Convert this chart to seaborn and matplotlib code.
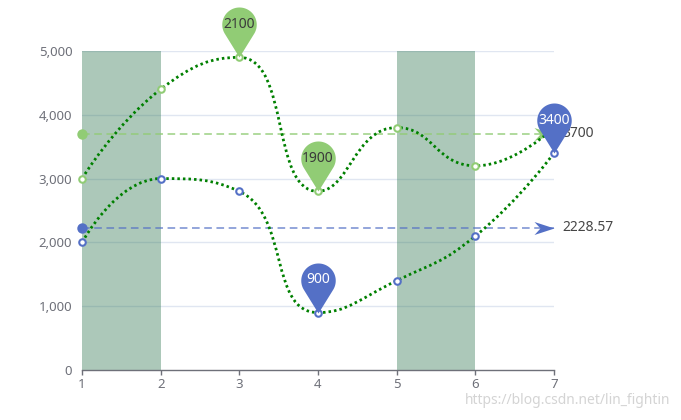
import numpy as np
import matplotlib
matplotlib.use("Agg")
import matplotlib.pyplot as plt
from matplotlib.path import Path
from matplotlib.patches import PathPatch
import seaborn as sns

# chart data
x_values = [1, 2, 3, 4, 5, 6, 7]
blue_values = [2000, 3000, 2800, 900, 1400, 2100, 3400]
green_values = [3000, 4400, 4900, 2800, 3800, 3200, 3800]
y_ticks = [0, 1000, 2000, 3000, 4000, 5000]
shaded_spans = [(1, 2), (5, 6)]
blue_pin_x = [4, 7]
blue_pin_labels = ["900", "3400"]
green_pin_x = [3, 4]
green_pin_labels = ["2100", "1900"]
watermark = "https://blog.csdn.net/lin_fightin"

BLUE = "#5470c6"
GREEN = "#91cc75"
LINE_GREEN = "#008000"
AXIS_GREY = "#6e7079"


def smooth_path(ax, xs, ys, smooth=0.5):
    """Bezier path through the points, echarts-style constrained smoothing."""
    pts = ax.transData.transform(np.column_stack([xs, ys]))
    n = len(pts)
    verts, codes = [pts[0]], [Path.MOVETO]
    cp0 = pts[0]
    for i in range(1, n):
        p, prev = pts[i], pts[i - 1]
        if i + 1 >= n:
            cp1 = p
            next_cp0 = p
        else:
            nxt = pts[i + 1]
            v = nxt - prev
            l0 = np.hypot(*(p - prev))
            l1 = np.hypot(*(nxt - p))
            r = l1 / (l0 + l1)
            next_cp0 = p + v * smooth * r
            next_cp0 = np.minimum(next_cp0, np.maximum(nxt, p))
            next_cp0 = np.maximum(next_cp0, np.minimum(nxt, p))
            v = next_cp0 - p
            cp1 = p - v * l0 / l1
            cp1 = np.minimum(cp1, np.maximum(prev, p))
            cp1 = np.maximum(cp1, np.minimum(prev, p))
            v = p - cp1
            next_cp0 = p + v * l1 / l0
        verts += [cp0, cp1, p]
        codes += [Path.CURVE4] * 3
        cp0 = next_cp0
    verts = ax.transData.inverted().transform(np.array(verts))
    return Path(verts, codes)


def pin_marker(c=1.9):
    phi = np.arccos(1 / c)
    t = np.linspace(-np.pi / 2 + phi, 3 * np.pi / 2 - phi, 80)
    arc = np.column_stack([np.cos(t), c + np.sin(t)])
    verts = np.vstack([[0, 0], arc, [0, 0]])
    codes = [Path.MOVETO] + [Path.LINETO] * len(arc) + [Path.CLOSEPOLY]
    return Path(verts, codes)


def arrow_marker():
    verts = [[0, 0], [-20, 6.5], [-14, 0], [-20, -6.5], [0, 0]]
    codes = [Path.MOVETO, Path.LINETO, Path.LINETO, Path.LINETO, Path.CLOSEPOLY]
    return Path(verts, codes)


sns.set_theme(style="white")
plt.rcParams["font.family"] = ["Noto Sans", "DejaVu Sans"]

fig = plt.figure(figsize=(6.81, 4.2), dpi=100)
ax = fig.add_axes([82 / 681, 50 / 420, 472 / 681, 319 / 420])
ax.set_xlim(1, 7)
ax.set_ylim(0, 5000)

# grid
for v in y_ticks[1:]:
    ax.axhline(v, color="#e0e6f1", lw=1, zorder=0)

# shaded areas
for a, b in shaded_spans:
    ax.axvspan(a, b, ymin=0, ymax=1, color="#2a734d", alpha=0.39, lw=0, zorder=1)

# mark lines (averages)
arrow = arrow_marker()
for vals, col, a in [(green_values, GREEN, 0.9), (blue_values, BLUE, 0.8)]:
    avg = np.mean(vals)
    ax.plot([1, 7], [avg, avg], color=col, alpha=a, lw=1.1, ls=(0, (5, 3)), zorder=2)
    ax.plot([1], [avg], marker="o", ms=7.5, color=col, mec="none", clip_on=False, zorder=2)
    ax.plot([7], [avg], marker=arrow, ms=28.8, color=col, mec="none", clip_on=False, zorder=2)
    label = f"{avg:.2f}".rstrip("0").rstrip(".")
    ax.annotate(label, (7, avg), xytext=(8, 0), textcoords="offset pixels",
                ha="left", va="center", fontsize=10, color="#464646", zorder=2,
                annotation_clip=False)

# smooth dotted lines
for vals in [green_values, blue_values]:
    path = smooth_path(ax, x_values, vals)
    ax.add_patch(PathPatch(path, facecolor="none", edgecolor=LINE_GREEN, lw=2.0,
                           ls=(0, (0.9, 1.1)), zorder=3, clip_on=False))

# hollow point markers
sns.scatterplot(x=x_values, y=green_values, ax=ax, marker="o", s=22, color="white",
                edgecolor=GREEN, linewidth=1.5, zorder=4, clip_on=False)
sns.scatterplot(x=x_values, y=blue_values, ax=ax, marker="o", s=22, color="white",
                edgecolor=BLUE, linewidth=1.5, zorder=4, clip_on=False)

# pins
pin = pin_marker()
pin_offset = 1.9 * 17.2
for xs, labels, vals, col, tcol in [
    (green_pin_x, green_pin_labels, green_values, GREEN, "#3a3a3a"),
    (blue_pin_x, blue_pin_labels, blue_values, BLUE, "white"),
]:
    for px, lab in zip(xs, labels):
        py = vals[x_values.index(px)]
        ax.plot([px], [py], marker=pin, ms=72, color=col, mec="none",
                ls="none", clip_on=False, zorder=5)
        ax.annotate(lab, (px, py), xytext=(0, pin_offset), textcoords="offset pixels",
                    ha="center", va="center", fontsize=10, color=tcol, zorder=6,
                    annotation_clip=False)

# axes styling
for s in ["left", "right", "top"]:
    ax.spines[s].set_visible(False)
ax.spines["bottom"].set_color(AXIS_GREY)
ax.spines["bottom"].set_linewidth(1)
ax.set_xticks(x_values)
ax.set_xticklabels([str(v) for v in x_values])
ax.set_yticks(y_ticks)
ax.set_yticklabels([f"{v:,}" for v in y_ticks])
ax.tick_params(axis="x", length=3.6, width=1, color=AXIS_GREY, colors=AXIS_GREY,
               labelsize=9.5, pad=2, bottom=True)
ax.tick_params(axis="y", length=0, colors=AXIS_GREY, labelsize=9.5, pad=7)
ax.set_xlabel("")
ax.set_ylabel("")
ax.grid(False)

fig.text(568 / 681, 1 - 401 / 420, watermark, ha="center", va="center",
         fontsize=10, color="#d4d4d4")

fig.savefig("out.png", dpi=100)
